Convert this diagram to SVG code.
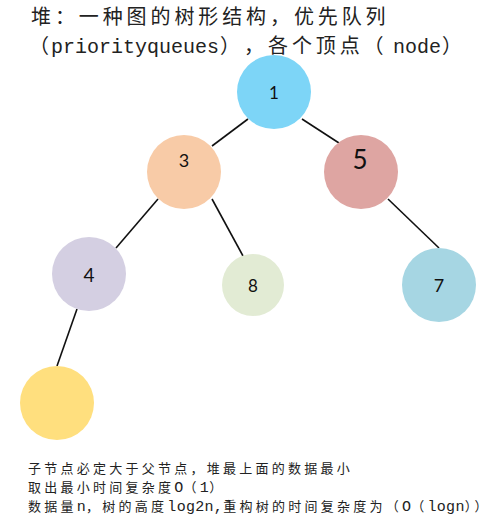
<svg xmlns="http://www.w3.org/2000/svg" width="500" height="524" viewBox="0 0 500 524">
<style>
.cjk{font-family:"Noto Sans CJK SC",sans-serif;fill:#222}
.t1{font-size:20px;letter-spacing:3.9px}
.t2{font-size:13px;letter-spacing:3.25px}
.mono{font-family:"Liberation Mono","Noto Sans CJK SC",monospace}
.m1{font-size:20px;letter-spacing:0}
.m2{font-size:15px;letter-spacing:0.3px}
.lbl{font-family:Lato,"Liberation Sans",sans-serif;fill:#111;text-anchor:middle;dominant-baseline:central}
.edge{stroke:#111;stroke-width:1.6;fill:none}
</style>
<rect width="500" height="524" fill="#fff"/>
<text class="cjk t1" x="31" y="24">堆：一种图的树形结构，优先队列</text>
<text class="cjk t1" y="53"><tspan x="29">（</tspan><tspan class="mono m1" x="51">priorityqueues</tspan><tspan x="220">）</tspan><tspan x="244">，</tspan><tspan x="268">各个顶点（</tspan><tspan class="mono m1" x="393">node</tspan><tspan x="442">）</tspan></text>
<g id="connectors">
<line class="edge" x1="248" y1="119" x2="212" y2="146"/>
<line class="edge" x1="302" y1="119" x2="339" y2="143"/>
<line class="edge" x1="158" y1="199" x2="116" y2="248"/>
<line class="edge" x1="212" y1="199" x2="243" y2="256"/>
<line class="edge" x1="388" y1="199" x2="439" y2="248"/>
<line class="edge" x1="77" y1="309" x2="57" y2="366"/>
</g>
<g id="node1"><circle cx="274" cy="92" r="37" fill="#7DD5F7"/><text class="lbl" x="274" y="92" font-size="17">1</text></g>
<g id="node3"><circle cx="184" cy="172" r="37" fill="#F8CBA7"/><text class="lbl" x="184" y="160" font-size="18">3</text></g>
<g id="node5"><circle cx="361" cy="172" r="37" fill="#DEA5A2"/><text class="lbl" x="360" y="159" font-size="26">5</text></g>
<g id="node4"><circle cx="89" cy="274" r="37" fill="#D4CFE2"/><text class="lbl" x="89" y="274" font-size="19">4</text></g>
<g id="node8"><circle cx="253" cy="285" r="31" fill="#E2EBD4"/><text class="lbl" x="253" y="285" font-size="17">8</text></g>
<g id="node7"><circle cx="439" cy="285" r="37" fill="#A6D6E3"/><text class="lbl" x="439" y="285" font-size="18">7</text></g>
<g id="nodeY"><circle cx="57" cy="403" r="37" fill="#FFDF7E"/></g>
<text class="cjk t2" x="28" y="473">子节点必定大于父节点，堆最上面的数据最小</text>
<text class="cjk t2" y="492"><tspan x="28">取出最小时间复杂度</tspan><tspan class="mono m2">O</tspan><tspan>（</tspan><tspan class="mono m2">1</tspan><tspan>）</tspan></text>
<text class="cjk t2" y="511"><tspan x="28">数据量</tspan><tspan class="mono m2">n</tspan><tspan>，树的高度</tspan><tspan class="mono m2">log2n,</tspan><tspan>重构树的时间复杂度为（</tspan><tspan class="mono m2">O</tspan><tspan>（</tspan><tspan class="mono m2">logn</tspan><tspan>））</tspan></text>
</svg>
